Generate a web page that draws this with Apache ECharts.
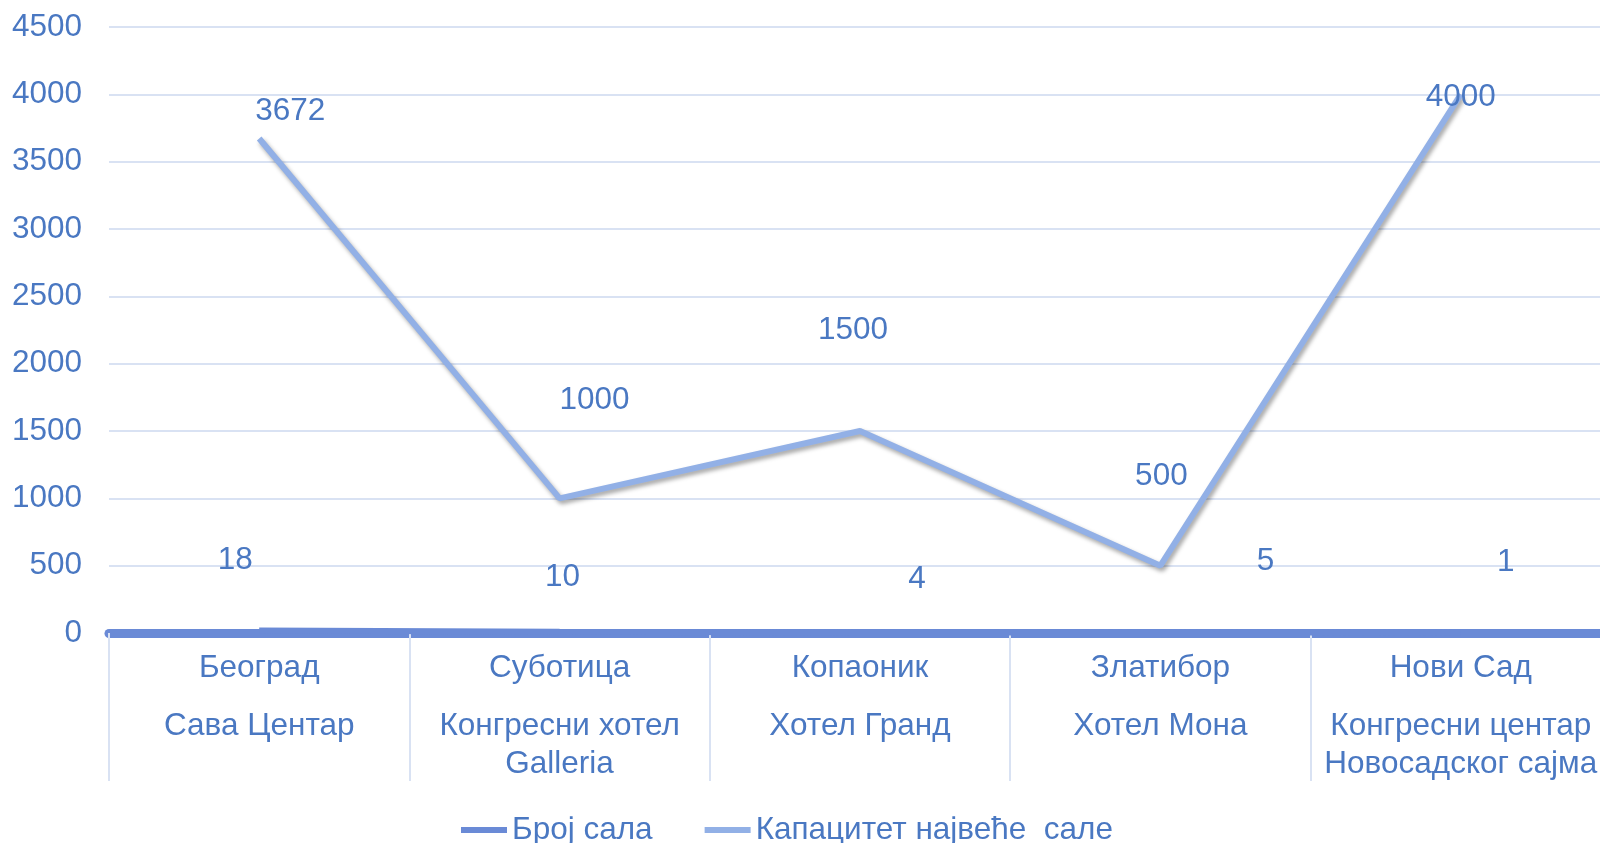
<!DOCTYPE html>
<html>
<head>
<meta charset="utf-8">
<script src="https://cdn.jsdelivr.net/npm/echarts@6/dist/echarts.min.js"></script>
<style>
  html, body { margin: 0; padding: 0; background: #fff; }
  #chart { width: 1600px; height: 843px; }
</style>
</head>
<body>
<div id="chart"></div>
<script>
// градови и сале
const gradovi = ['Београд', 'Суботица', 'Копаоник', 'Златибор', 'Нови Сад'];
const sale = [['Сава Центар'], ['Конгресни хотел', 'Galleria'], ['Хотел Гранд'], ['Хотел Мона'], ['Конгресни центар', 'Новосадског сајма']];
const brojSala = [18, 10, 4, 5, 1];
const kapacitet = [3672, 1000, 1500, 500, 4000];
const yTicks = [0, 500, 1000, 1500, 2000, 2500, 3000, 3500, 4000, 4500];

// pomeraji oznaka kao u originalu
const pomerajBroj = [[-24, -70], [3, -54], [57, -53], [105, -71], [45, -71]];
const pomerajKap = [[31, -27], [35, -98], [-7, -101], [1, -89], [0, 3]];

const plava = '#4a78c2';
const font = '"Liberation Sans", Arial, sans-serif';
const fs = 31.5;

const kategorije = gradovi.map((g, i) => g + '|' + i);

const chart = echarts.init(document.getElementById('chart'));

const option = {
    animation: false,
    textStyle: { fontFamily: font },
    grid: { left: 109, width: 1502, top: 27, bottom: 210, outerBoundsMode: 'none', containLabel: false },
    legend: {
        left: 456,
        top: 809,
        icon: 'rect',
        itemWidth: 46,
        itemHeight: 6,
        itemGap: 52,
        textStyle: { fontSize: fs, color: plava, fontFamily: font },
        data: ['Број сала', 'Капацитет највеће  сале']
    },
    xAxis: {
        type: 'category',
        data: kategorije,
        axisLine: { lineStyle: { color: '#6a8ad6', width: 9 } },
        axisTick: { show: true, interval: 0, length: 148, lineStyle: { color: '#d9e2f3', width: 2 } },
        axisLabel: {
            interval: 0,
            margin: 16,
            formatter: function (v) {
                const i = Number(v.split('|')[1]);
                let s = '{a|' + gradovi[i] + '}\n{s| }';
                sale[i].forEach(r => { s += '\n{b|' + r + '}'; });
                return s;
            },
            rich: {
                a: { fontSize: fs, lineHeight: 38, color: plava, fontFamily: font },
                s: { fontSize: 10, lineHeight: 20 },
                b: { fontSize: fs, lineHeight: 38, color: plava, fontFamily: font }
            }
        }
    },
    yAxis: {
        type: 'value',
        min: yTicks[0],
        max: yTicks[yTicks.length - 1],
        interval: 500,
        axisLine: { show: false },
        axisTick: { show: false },
        axisLabel: { fontSize: fs, color: plava, margin: 27, fontFamily: font, formatter: v => String(v) },
        splitLine: { lineStyle: { color: '#d9e2f3', width: 2 } }
    },
    series: [
        {
            name: 'Број сала',
            type: 'line',
            data: brojSala.map((v, i) => ({
                value: v,
                label: { offset: pomerajBroj[i] }
            })),
            symbol: 'circle',
            symbolSize: 0,
            lineStyle: { color: '#6a8ad6', width: 6 },
            itemStyle: { color: '#6a8ad6' },
            label: { show: true, position: 'inside', fontSize: fs, color: plava, fontFamily: font }
        },
        {
            name: 'Капацитет највеће  сале',
            type: 'line',
            data: kapacitet.map((v, i) => ({
                value: v,
                label: { offset: pomerajKap[i] }
            })),
            symbol: 'circle',
            symbolSize: 0,
            lineStyle: {
                color: '#92b0e6',
                width: 6,
                shadowColor: 'rgba(0,0,0,0.35)',
                shadowBlur: 4,
                shadowOffsetX: 2,
                shadowOffsetY: 3
            },
            itemStyle: { color: '#92b0e6' },
            label: { show: true, position: 'inside', fontSize: fs, color: plava, fontFamily: font }
        }
    ]
};

chart.setOption(option);
</script>
</body>
</html>
